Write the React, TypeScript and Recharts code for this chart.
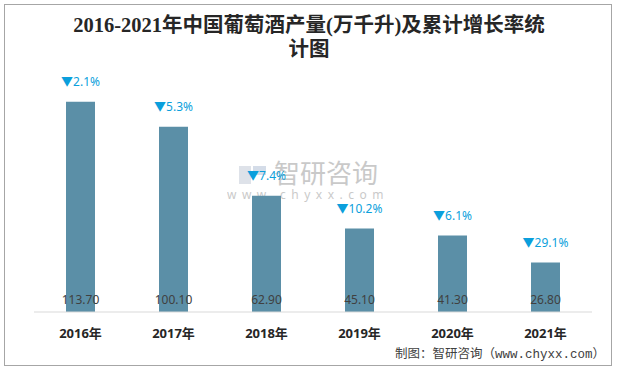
import React from 'react';
import { BarChart, Bar, XAxis, YAxis, LabelList } from 'recharts';

const years = ['2016年', '2017年', '2018年', '2019年', '2020年', '2021年'];
const output = [113.7, 100.1, 62.9, 45.1, 41.3, 26.8];
const growth = ['2.1%', '5.3%', '7.4%', '10.2%', '6.1%', '29.1%'];

const data = years.map((year, i) => ({ year, output: output[i], growth: growth[i] }));

const sans = "'Noto Sans', 'Noto Sans CJK SC', sans-serif";
const serif = "'Liberation Serif', 'Noto Sans CJK SC', serif";

function ValueLabel(props: any) {
  const { x, y, width, height, value } = props;
  return (
    <text
      x={x + width / 2}
      y={y + height - 11}
      textAnchor="middle"
      dominantBaseline="middle"
      fontSize={12}
      fontFamily={sans}
      fill="#404040"
    >
      {Number(value).toFixed(2)}
    </text>
  );
}

function GrowthLabel(props: any) {
  const { x, y, width, value } = props;
  return (
    <text
      x={x + width / 2}
      y={y - 19}
      textAnchor="middle"
      dominantBaseline="middle"
      fontSize={12}
      fontFamily={sans}
      fill="#0b9fdc"
    >
      ▼{value}
    </text>
  );
}

export default function App() {
  return (
    <div style={{ position: 'absolute', left: 0, top: 0, width: 617, height: 369, background: '#fff' }}>
      <div
        style={{
          position: 'absolute',
          left: 4,
          top: 4,
          width: 606,
          height: 360,
          border: '1px solid #a6a6a6',
        }}
      />
      <BarChart
        width={617}
        height={369}
        data={data}
        margin={{ top: 90, right: 25, bottom: 27, left: 34 }}
      >
        <text
          x={309}
          y={27}
          textAnchor="middle"
          dominantBaseline="middle"
          fontSize={20.5}
          fontWeight="bold"
          fontFamily={serif}
          fill="#262626"
        >
          2016-2021年中国葡萄酒产量(万千升)及累计增长率统
        </text>
        <text
          x={309}
          y={51}
          textAnchor="middle"
          dominantBaseline="middle"
          fontSize={20.5}
          fontWeight="bold"
          fontFamily={serif}
          fill="#262626"
        >
          计图
        </text>

        {/* watermark */}
        <rect x={239} y={166} width={12} height={18} fill="#d6dbe4" opacity={0.8} />
        <rect x={253} y={166} width={13} height={9} fill="#c9d3e2" opacity={0.8} />
        <text
          x={326}
          y={176}
          textAnchor="middle"
          dominantBaseline="middle"
          fontSize={26}
          fontFamily="'Noto Sans CJK SC', sans-serif"
          fill="#b8b8b8"
          opacity={0.75}
        >
          智研咨询
        </text>
        <text
          x={308}
          y={196}
          textAnchor="middle"
          dominantBaseline="middle"
          fontSize={12}
          letterSpacing={5.5}
          fontFamily={sans}
          fill="#b8b8b8"
          opacity={0.75}
        >
          www.chyxx.com
        </text>

        <XAxis
          dataKey="year"
          axisLine={{ stroke: '#d9d9d9' }}
          tickLine={false}
          tickSize={0}
          tickMargin={17}
          height={30}
          tick={{ fontSize: 13, fontWeight: 'bold', fill: '#262626', fontFamily: sans }}
        />
        <YAxis hide domain={[0, 120]} />
        <Bar dataKey="output" fill="#5b8fa7" barSize={29} isAnimationActive={false}>
          <LabelList dataKey="output" content={<ValueLabel />} />
          <LabelList dataKey="growth" content={<GrowthLabel />} />
        </Bar>

        <text
          x={605}
          y={355}
          textAnchor="end"
          dominantBaseline="middle"
          fontSize={12.5}
          fontFamily="'Liberation Mono', 'Noto Sans CJK SC', monospace"
          fill="#404040"
        >
          制图：智研咨询（www.chyxx.com）
        </text>
      </BarChart>
    </div>
  );
}
